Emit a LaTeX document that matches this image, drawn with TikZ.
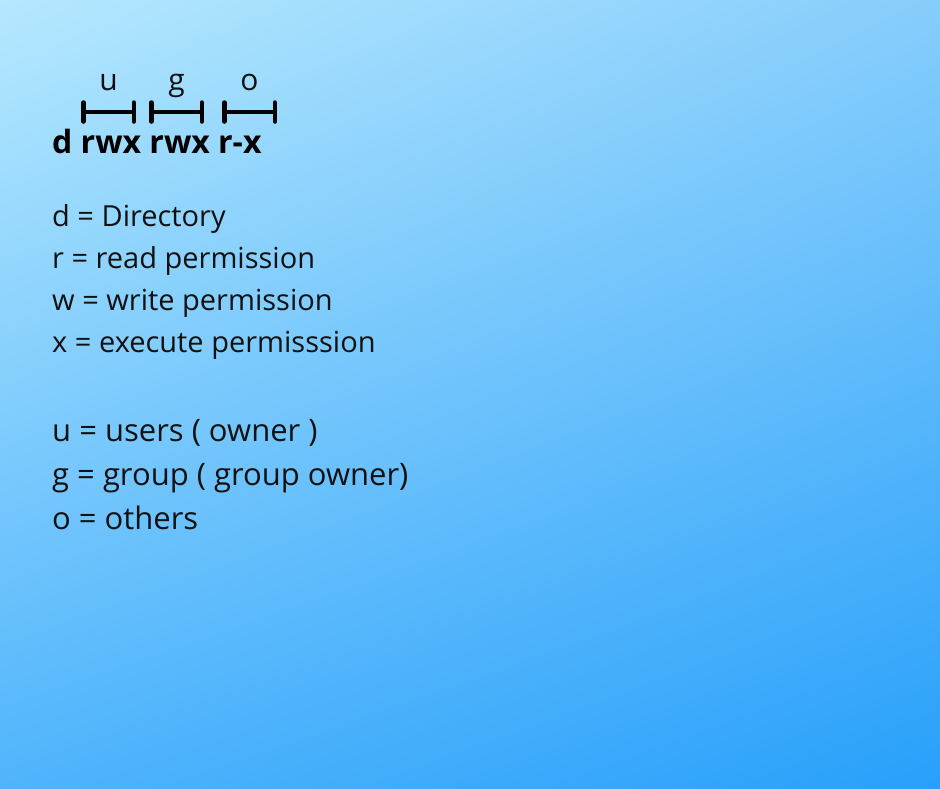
\documentclass[tikz,border=0pt]{standalone}
\usepackage{fontspec}
\setmainfont{Open Sans}
\usetikzlibrary{arrows.meta, positioning, calc, shadings}
\definecolor{skytl}{HTML}{B6E8FE}
\definecolor{skytr}{HTML}{86CDFC}
\definecolor{skybl}{HTML}{50B4FC}
\definecolor{skybr}{HTML}{28A0FA}
\definecolor{ink}{HTML}{111111}
\tikzset{
  every picture/.style={x=1pt, y=-1pt},
  legend/.style={anchor=base west, inner sep=0pt, text=ink, font=\fontsize{29}{34}\selectfont},
  legendbig/.style={legend, font=\fontsize{31}{36}\selectfont},
  perms/.style={anchor=base west, inner sep=0pt, text=black, font=\fontsize{32}{36}\selectfont\bfseries},
  who/.style={anchor=base, inner sep=0pt, text=ink, font=\fontsize{30}{34}\selectfont},
  span/.style={{Bar[width=19pt, round]}-{Bar[width=19pt, round]}, line width=4.5pt, draw=black},
}
\begin{document}
\begin{tikzpicture}
  \shade[upper left=skytl, upper right=skytr, lower left=skybl, lower right=skybr] (0,0) rectangle (940,788);
  \useasboundingbox (0,0) rectangle (940,788);
  % permission string and its three groups
  \node[perms] (mode) at (52,153) {d rwx rwx r-x};
  \foreach \g/\xa/\xb/\lbl in {u/81/136/u, g/149/204/g, o/222/277/o} {
    \coordinate (\g l) at (\xa,112); \coordinate (\g r) at (\xb,112);
    \draw[span] (\g l) -- (\g r);
    \node[who] (\g lbl) at ($(\g l)!0.5!(\g r)+(0,-22)$) {\lbl};
  }
  % meaning of the letters
  \node[legend] (d) at (52,226) {d = Directory};
  \node[legend] (r) at (52,268) {r = read permission};
  \node[legend] (w) at (52,310) {w = write permission};
  \node[legend] (x) at (52,352) {x = execute permisssion};
  \node[legendbig] (u) at (52,441) {u = users ( owner )};
  \node[legendbig] (g) at (52,485) {g = group ( group owner)};
  \node[legendbig] (o) at (52,529) {o = others};
\end{tikzpicture}
\end{document}
